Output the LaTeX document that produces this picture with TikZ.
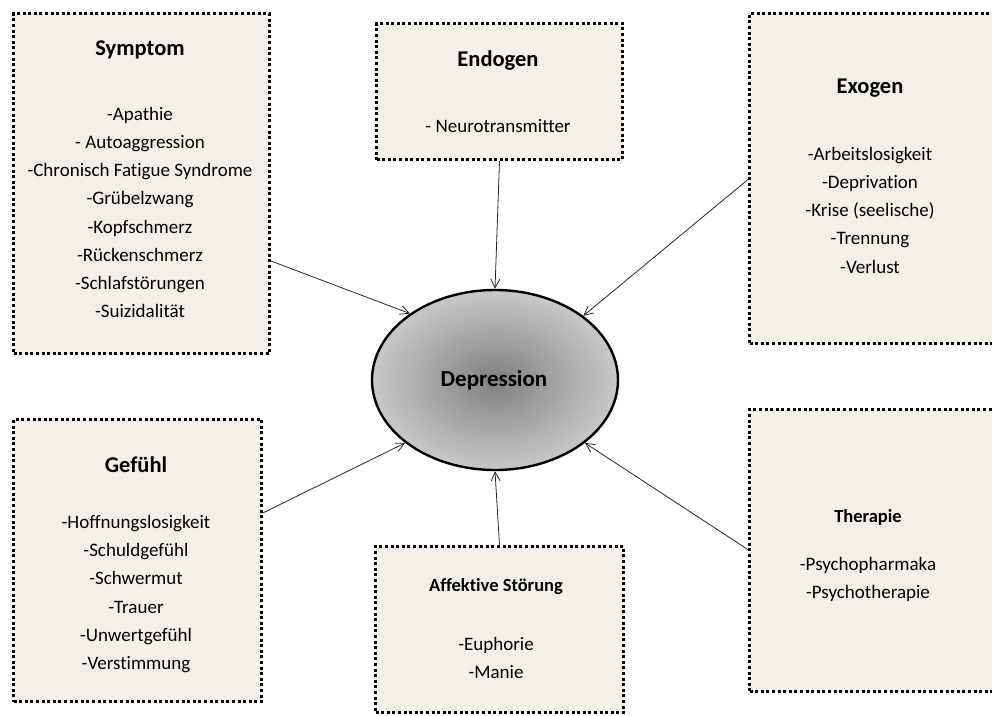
\documentclass[tikz,border=0pt]{standalone}
\usepackage{fontspec}
\setmainfont{Carlito}[Ligatures=NoCommon]
\usetikzlibrary{shapes.geometric,arrows.meta,calc}
\definecolor{boxfill}{RGB}{242,240,232}
\tikzset{
  dotbox/.style={draw=black, fill=boxfill, line width=3pt,
    dash pattern=on 3pt off 2.6pt, rectangle, inner sep=0pt},
  headtxt/.style={font=\fontsize{22.5}{26}\selectfont\bfseries, anchor=center, inner sep=0pt},
  smallhead/.style={font=\fontsize{18.5}{22}\selectfont\bfseries, anchor=center, inner sep=0pt},
  itemtxt/.style={font=\fontsize{19}{28.2}\selectfont, align=center, anchor=north, inner sep=0pt},
  link/.style={draw=black!85, line width=0.8pt, -{Straight Barb[length=9pt,width=9pt]}},
}
\begin{document}
\begin{tikzpicture}[x=1pt,y=-1pt]
  \useasboundingbox (0,0) rectangle (992,715);
  \clip (0,0) rectangle (992,715);

  % boxes
  \path (12,12) node[dotbox, anchor=north west, minimum width=256pt, minimum height=340pt] (sym) {};
  \path (375,22) node[dotbox, anchor=north west, minimum width=246pt, minimum height=136pt] (endo) {};
  \path (748,12) node[dotbox, anchor=north west, minimum width=260pt, minimum height=330pt] (exo) {};
  \path (12,418) node[dotbox, anchor=north west, minimum width=248pt, minimum height=282pt] (gef) {};
  \path (374,545) node[dotbox, anchor=north west, minimum width=248pt, minimum height=166pt] (aff) {};
  \path (748,408) node[dotbox, anchor=north west, minimum width=260pt, minimum height=282pt] (ther) {};

  % central ellipse
  \node[ellipse, draw=black, line width=2.4pt, minimum width=246pt, minimum height=180pt,
        inner color={rgb,255:red,128;green,128;blue,128},
        outer color={rgb,255:red,200;green,200;blue,200}] (dep) at (495,380) {};
  \node[font=\fontsize{23}{27}\selectfont\bfseries, inner sep=0pt] (deptxt) at (494,380) {Depression};

  % texts
  \node[headtxt] (symh) at (140,50) {Symptom};
  \node[itemtxt] (symi) at (140,107) {-Apathie\\- Autoaggression\\-Chronisch Fatigue Syndrome\\-Grübelzwang\\-Kopfschmerz\\-Rückenschmerz\\-Schlafstörungen\\-Suizidalität};

  \node[headtxt] (endoh) at (498,61) {Endogen};
  \node[itemtxt] (endoi) at (498,119) {- Neurotransmitter};

  \node[headtxt] (exoh) at (870,88) {Exogen};
  \node[itemtxt] (exoi) at (870,147) {-Arbeitslosigkeit\\-Deprivation\\-Krise (seelische)\\-Trennung\\-Verlust};

  \node[headtxt] (gefh) at (136,465) {Gefühl};
  \node[itemtxt] (gefi) at (136,515) {-Hoffnungslosigkeit\\-Schuldgefühl\\-Schwermut\\-Trauer\\-Unwertgefühl\\-Verstimmung};

  \node[smallhead] (affh) at (496,587) {Affektive Störung};
  \node[itemtxt] (affi) at (496,637) {-Euphorie\\-Manie};

  \node[smallhead] (therh) at (868,517) {Therapie};
  \node[itemtxt] (theri) at (868,557) {-Psychopharmaka\\-Psychotherapie};

  % connectors
  \draw[link] ($(sym.north east)!0.726!(sym.south east)$) -- (dep.142.8);
  \draw[link] (endo.south) -- (dep.north);
  \draw[link] ($(exo.north west)!0.503!(exo.south west)$) -- (dep.36.4);
  \draw[link] ($(gef.north east)!0.333!(gef.south east)$) -- (dep.215.6);
  \draw[link] (aff.north) -- (dep.south);
  \draw[link] ($(ther.north west)!0.497!(ther.south west)$) -- (dep.325);
\end{tikzpicture}
\end{document}
